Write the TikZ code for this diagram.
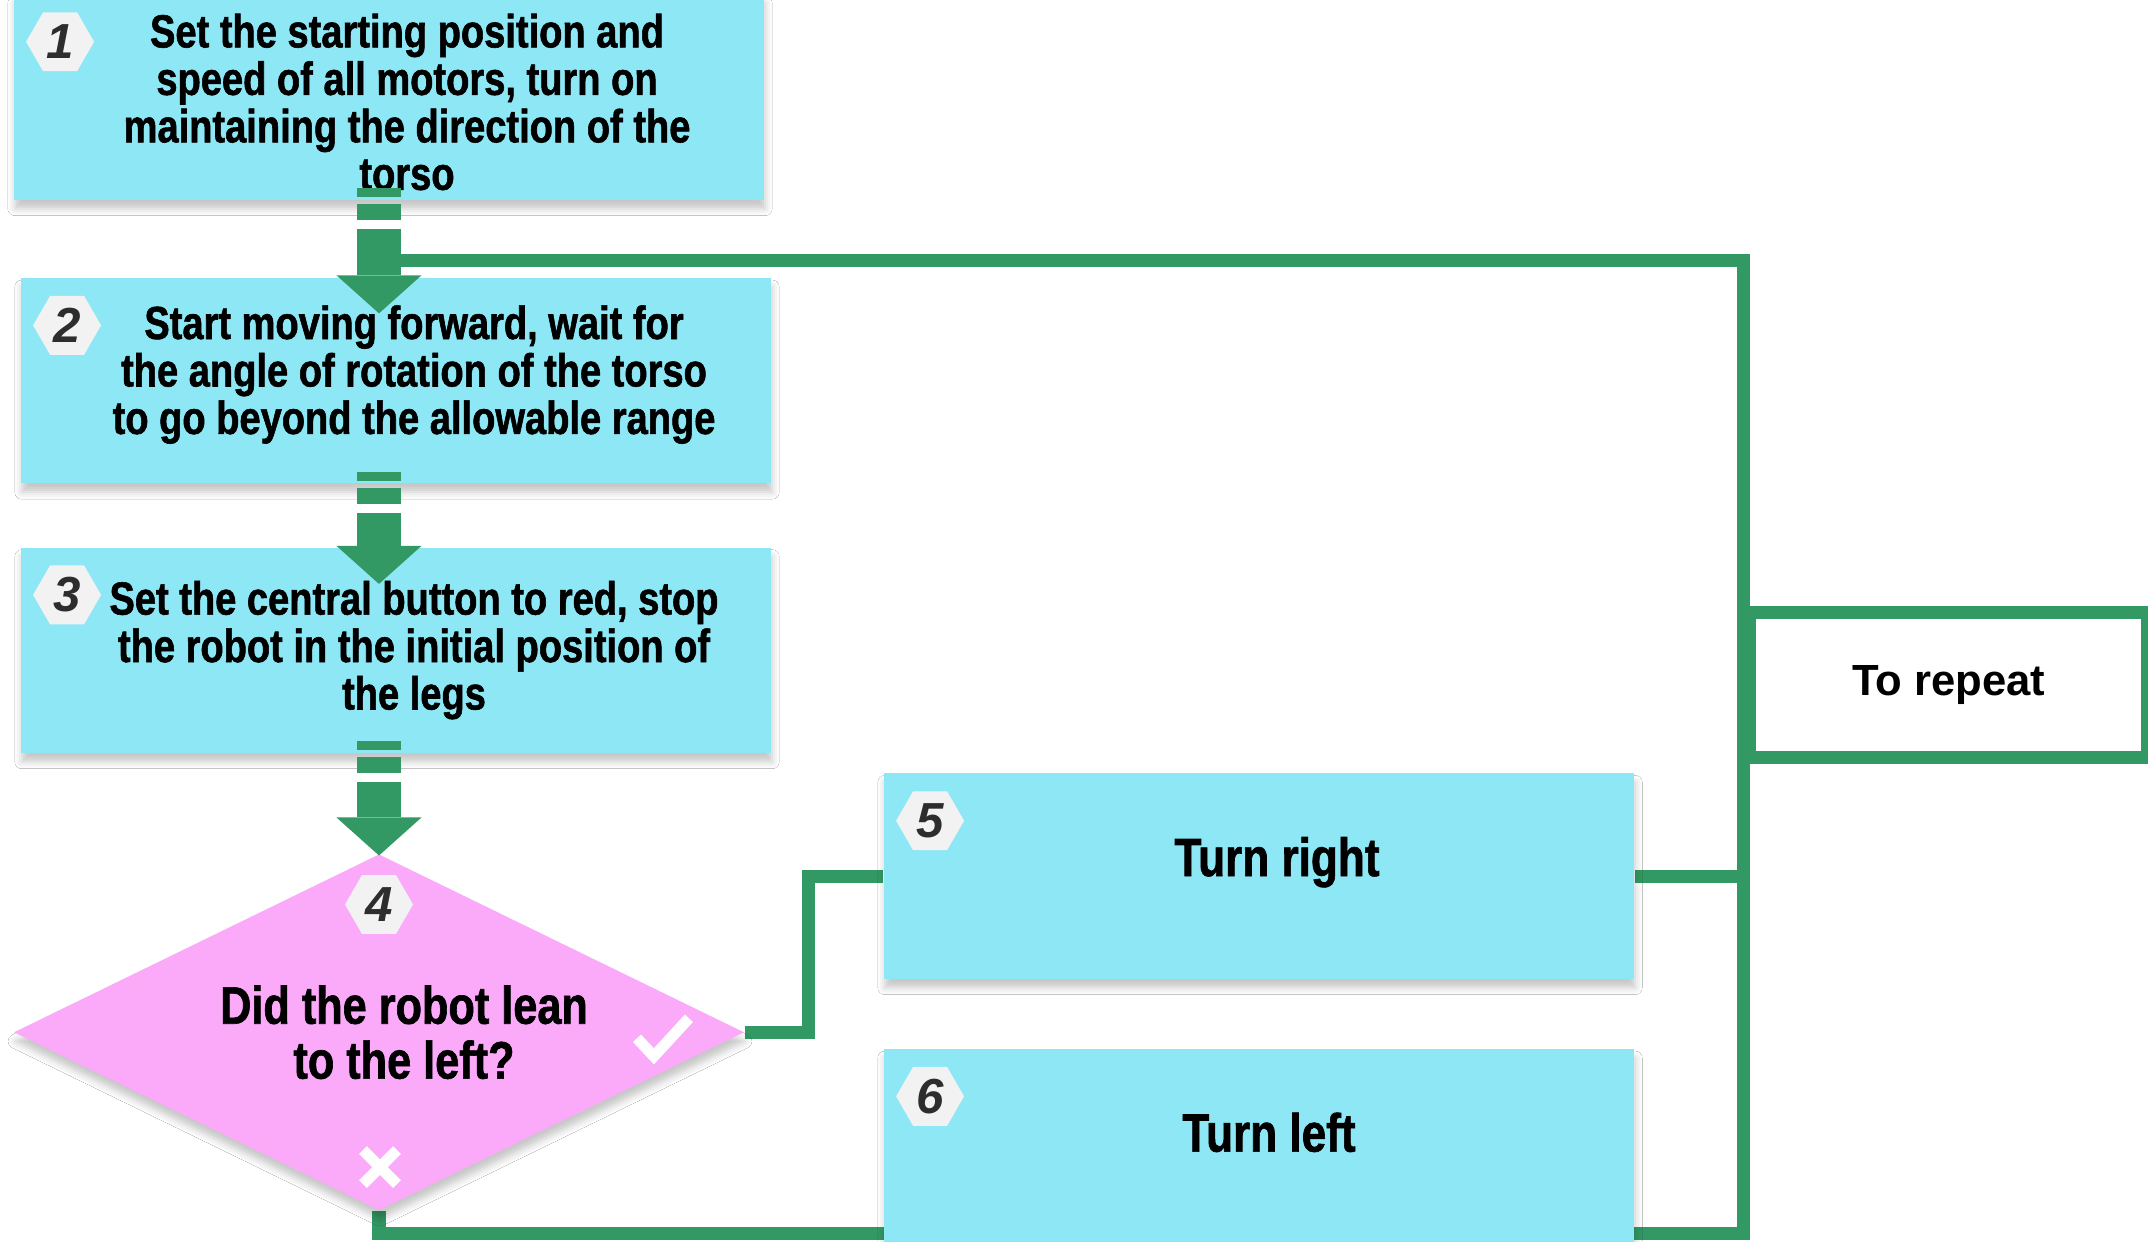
\documentclass[tikz,border=0pt]{standalone}
\usepackage{fontspec}
\setmainfont{Liberation Sans}
\newfontfamily\condfont[FakeStretch=0.82, BoldFeatures={FakeBold=1.2}]{Liberation Sans}
\usetikzlibrary{
  positioning,
  shapes.geometric,        % diamond and hexagon badges
  arrows.meta,             % triangle heads
  calc,                    % $(node)+(...)$ offsets
  backgrounds,             % loop lines behind the boxes
  shadows.blur             % soft box shadows
}
\definecolor{boxcyan}{RGB}{141,231,245}
\definecolor{leanpink}{RGB}{251,170,250}
\definecolor{flowgreen}{RGB}{50,152,100}
\definecolor{badgegrey}{RGB}{242,242,242}
\definecolor{badgeink}{RGB}{45,45,45}

\begin{document}
\begin{tikzpicture}[
    x=0.01cm, y=0.01cm,
    every node/.style={align=center},
    softshadow/.style={blur shadow={shadow xshift=0.01cm, shadow yshift=-0.09cm,
                       shadow blur radius=0.07cm, shadow opacity=22}},
    stepbox/.style={rectangle, fill=boxcyan, softshadow,
                    minimum width=7.5cm, minimum height=2.05cm},
    steptext/.style={inner sep=0pt, xshift=0.18cm,
                     font=\condfont\bfseries\fontsize{13.2}{13.5}\selectfont},
    turntext/.style={steptext, anchor=base,
                     font=\condfont\bfseries\fontsize{15.3}{17}\selectfont},
    decision/.style={diamond, aspect=2, fill=leanpink, softshadow, inner sep=0pt,
                     minimum width=7.3cm, minimum height=3.56cm},
    leantextstyle/.style={steptext, font=\condfont\bfseries\fontsize{15}{15.6}\selectfont},
    repeatbox/.style={rectangle, draw=flowgreen, line width=0.13cm, fill=white,
                      minimum width=3.98cm, minimum height=1.45cm,
                      font=\bfseries\fontsize{12.4}{14}\selectfont},
    badge/.style={regular polygon, regular polygon sides=6, minimum size=0.68cm,
                  inner sep=0pt, fill=badgegrey, text=badgeink,
                  font=\bfseries\itshape\fontsize{14}{14}\selectfont},
    flowarrow/.style={draw=flowgreen, line width=0.44cm,
                      -{Triangle[width=0.85cm, length=0.38cm, line width=0pt]},
                      dash pattern=on 0.09cm off 0.07cm on 0.16cm off 0.09cm on 6cm off 1pt,
                      shorten <=-0.12cm},
    loopline/.style={draw=flowgreen, line width=0.13cm},
    tickstroke/.style={draw=white, line width=0.11cm}
]
  \useasboundingbox (0,0) rectangle (2148,-1241);

  \node[stepbox] (init) at (389,-97) {};
  \node[stepbox, below=0.77cm of init, xshift=0.07cm] (move) {};
  \node[stepbox, below=0.63cm of move] (stop) {};
  \node[decision, below=1cm of stop, xshift=-0.17cm] (lean) {};

  \node[stepbox] (rturn) at (1259,-876) {};
  \node[stepbox, below=0.69cm of rturn] (lturn) {};

  \node[steptext, yshift=-0.05cm] (inittext) at (init)
        {Set the starting position and\\speed of all motors, turn on\\maintaining the direction of the\\torso};
  \node[steptext, yshift=0.06cm] (movetext) at (move)
        {Start moving forward, wait for\\the angle of rotation of the torso\\to go beyond the allowable range};
  \node[steptext] (stoptext) at (stop)
        {Set the central button to red, stop\\the robot in the initial position of\\the legs};
  \node[leantextstyle, xshift=0.07cm] (leantext) at (lean)
        {Did the robot lean\\to the left?};
  \node[turntext] (rturntext) at (rturn) {Turn right};
  \node[turntext, xshift=-0.08cm] (lturntext) at (lturn) {Turn left};

  \coordinate (looptop) at (1743,-260);
  \coordinate (loopbot) at (1743,-1233);
  \node[repeatbox, anchor=west] (again) at (1743,-685) {To repeat};

  \begin{scope}[on background layer]
    \fill[white] (0,0) rectangle (2148,-1241);
    \draw[loopline] (lean.south) |- (loopbot) -- (looptop) -- (looptop -| lean.north);
    \draw[loopline] (lean.east) -- ++(64,0) |- (rturn.west);
    \draw[loopline] (rturn.east) -- (rturn.east -| looptop);
  \end{scope}

  \draw[flowarrow, shorten >=-0.36cm] (init.south -| lean.north) -- (move.north -| lean.north);
  \draw[flowarrow, shorten >=-0.37cm] (move.south -| lean.north) -- (stop.north -| lean.north);
  \draw[flowarrow, shorten >=-0.02cm] (stop.south -| lean.north) -- (lean.north);

  % yes / no marks
  \draw[tickstroke] ($(lean.east)+(-108,-6)$) -- ($(lean.east)+(-91,-24)$) -- ($(lean.east)+(-56,14)$);
  \draw[tickstroke] ($(lean.south)+(-16,27)$) -- ($(lean.south)+(18,61)$);
  \draw[tickstroke] ($(lean.south)+(-16,61)$) -- ($(lean.south)+(18,27)$);

  \node[badge] (n1) at ([shift={(47,-48)}]init.north west) {1};
  \node[badge] (n2) at ([shift={(47,-48)}]move.north west) {2};
  \node[badge] (n3) at ([shift={(47,-48)}]stop.north west) {3};
  \node[badge] (n4) at ([shift={(0,-51)}]lean.north) {4};
  \node[badge] (n5) at ([shift={(47,-48)}]rturn.north west) {5};
  \node[badge] (n6) at ([shift={(47,-48)}]lturn.north west) {6};
\end{tikzpicture}
\end{document}
